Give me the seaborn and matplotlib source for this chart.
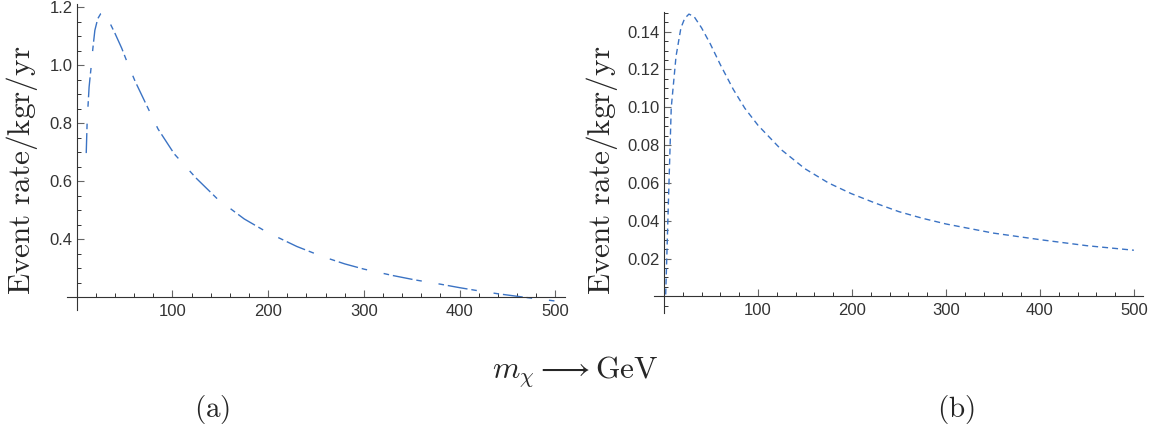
import matplotlib
matplotlib.use("Agg")
import matplotlib.pyplot as plt
from matplotlib.ticker import MultipleLocator, FixedLocator, FixedFormatter
import seaborn as sns
import pandas as pd

# ---- data ----
# (a) event rate vs WIMP mass
mass_a = [10, 11, 13, 15, 17, 19, 22, 25, 28, 33, 40, 47, 54, 61, 72, 85, 102,
          125, 147, 175, 199, 230, 257, 280, 300, 330, 353, 380, 400, 420, 440,
          470, 500]
rate_a = [0.697, 0.81, 0.925, 0.99, 1.06, 1.12, 1.16, 1.177, 1.182, 1.157, 1.11,
          1.059, 1.0, 0.945, 0.869, 0.78, 0.694, 0.61, 0.539, 0.47, 0.424, 0.375,
          0.340, 0.315, 0.297, 0.275, 0.260, 0.245, 0.233, 0.222, 0.212, 0.199,
          0.187]

# (b) event rate vs WIMP mass
mass_b = [1.8, 4.1, 7.7, 12.8, 18, 22, 26.5, 32, 40, 49.3, 60, 73.7, 86, 100,
          125, 150, 175, 199, 225, 250, 275, 300, 350, 400, 450, 500]
rate_b = [0.001, 0.040, 0.0998, 0.127, 0.142, 0.147, 0.1493, 0.148, 0.142,
          0.1335, 0.1225, 0.1095, 0.0995, 0.0905, 0.0775, 0.0675, 0.0600, 0.0544,
          0.0493, 0.0448, 0.0413, 0.0383, 0.0335, 0.0300, 0.0268, 0.0244]

xticks = [100, 200, 300, 400, 500]
yticks_a = [0.4, 0.6, 0.8, 1.0, 1.2]
yticks_b = [0.02, 0.04, 0.06, 0.08, 0.10, 0.12, 0.14]

df_a = pd.DataFrame({"mass": mass_a, "rate": rate_a})
df_b = pd.DataFrame({"mass": mass_b, "rate": rate_b})

# ---- style ----
sns.set_style("white")
plt.rcParams["font.family"] = ["Liberation Sans", "DejaVu Sans"]
plt.rcParams["mathtext.fontset"] = "cm"
plt.rcParams["lines.scale_dashes"] = False

line_color = "#3b73c4"
axis_color = "#333333"

fig = plt.figure(figsize=(11.56, 4.34), dpi=100)
ax_a = fig.add_axes([0.0577, 0.2857, 0.431, 0.7051])
ax_b = fig.add_axes([0.5657, 0.2788, 0.4233, 0.6935])

sns.lineplot(data=df_a, x="mass", y="rate", ax=ax_a, color=line_color,
             lw=1.0, linestyle=(0, (14.4, 2.8, 4, 12.2, 4, 2.8)))
sns.lineplot(data=df_b, x="mass", y="rate", ax=ax_b, color=line_color,
             lw=1.0, linestyle=(0, (4.3, 2.9)))

ax_a.set_xlim(-10.4, 510)
ax_a.set_ylim(0.156, 1.211)
ax_b.set_xlim(-10.7, 510)
ax_b.set_ylim(-0.0088, 0.1504)


def style_axes(ax, x_cross, yticks, yfmt, yminor):
    # Mathematica-like axes crossing inside the plot
    for s in ["top", "right"]:
        ax.spines[s].set_visible(False)
    ax.spines["left"].set_position(("data", 0))
    ax.spines["bottom"].set_position(("data", x_cross))
    for s in ["left", "bottom"]:
        ax.spines[s].set_color(axis_color)
        ax.spines[s].set_linewidth(0.8)
    ax.xaxis.set_major_locator(FixedLocator(xticks))
    ax.xaxis.set_major_formatter(FixedFormatter([str(t) for t in xticks]))
    ax.xaxis.set_minor_locator(MultipleLocator(20))
    ax.yaxis.set_major_locator(FixedLocator(yticks))
    ax.yaxis.set_major_formatter(FixedFormatter([yfmt.format(t) for t in yticks]))
    ax.yaxis.set_minor_locator(MultipleLocator(yminor))
    ax.tick_params(which="both", bottom=True, left=True, top=False, right=False)
    ax.tick_params(which="major", direction="in", length=4.8, width=0.8,
                   color="#666666", labelsize=12, labelcolor="#333333")
    ax.tick_params(which="minor", direction="in", length=2.6, width=0.7,
                   color="#333333")
    ax.tick_params(axis="x", pad=5)
    ax.tick_params(axis="y", pad=3)
    ax.set_xlabel("")
    ax.set_ylabel("")


style_axes(ax_a, 0.2, yticks_a, "{:.1f}", 0.05)
style_axes(ax_b, 0.0, yticks_b, "{:.2f}", 0.005)

# axis titles and panel labels
ylab = r"$\mathrm{Event\ rate/kgr/yr}$"
fig.text(22 / 1156, 0.608, ylab, rotation=90, ha="center", va="center", fontsize=22.5)
fig.text(602 / 1156, 0.608, ylab, rotation=90, ha="center", va="center", fontsize=22.5)
fig.text(575 / 1156, 1 - 372 / 434, r"$m_\chi \longrightarrow \mathrm{GeV}$",
         ha="center", va="center", fontsize=22.5)
fig.text(212 / 1156, 1 - 410 / 434, r"$\mathrm{(a)}$", ha="center", va="center", fontsize=21)
fig.text(956 / 1156, 1 - 410 / 434, r"$\mathrm{(b)}$", ha="center", va="center", fontsize=21)

fig.savefig("out.png", dpi=100)
